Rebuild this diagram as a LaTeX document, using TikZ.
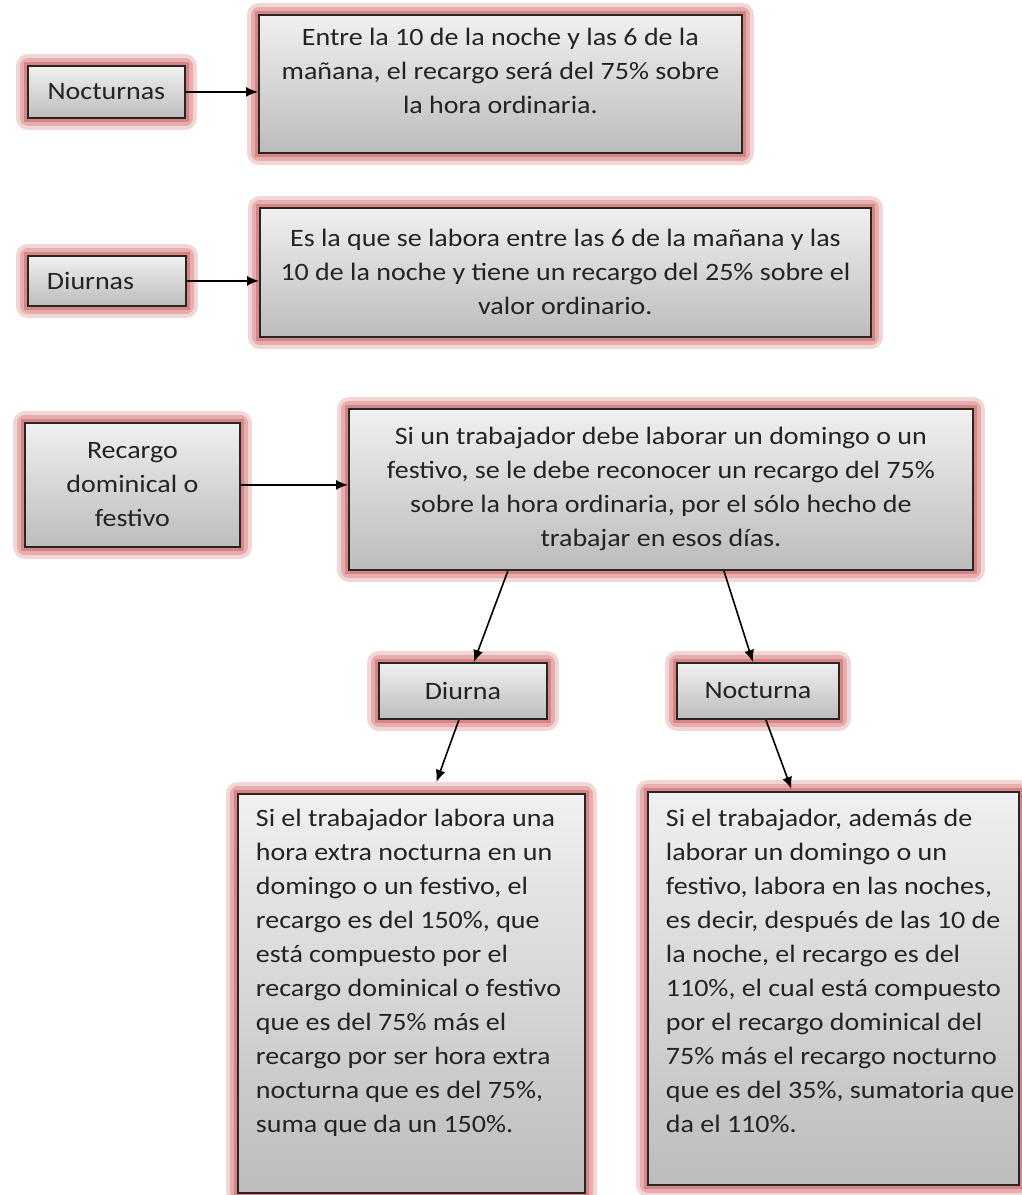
\documentclass[tikz,border=0pt]{standalone}
\usepackage{fontspec}
\setmainfont[FakeStretch=1.12]{Carlito}
\usetikzlibrary{arrows.meta}

\definecolor{glow}{RGB}{212,118,118}
\definecolor{cajaTop}{RGB}{240,240,240}
\definecolor{cajaBot}{RGB}{188,188,188}
\definecolor{letra}{RGB}{35,35,35}

\tikzset{
  caja/.style={draw=black!85, line width=1.8pt, top color=cajaTop, bottom color=cajaBot,
    text=letra, font=\fontsize{25}{34}\selectfont, inner sep=0pt, align=center, anchor=north west,
    preaction={draw=glow!30, line width=24pt, line join=round},
    preaction={draw=glow!60, line width=16pt, line join=round},
    preaction={draw=glow!90, line width=8pt}},
  flecha/.style={-{Latex[length=12pt,width=10pt]}, line width=1.6pt, black}
}

\begin{document}
\begin{tikzpicture}[x=1pt,y=-1pt]
  \useasboundingbox (0,0) rectangle (1021,1195);

  \node[caja, minimum width=157pt, minimum height=52pt] (noct) at (27,65) {Nocturnas};
  \node[caja, inner xsep=10pt, inner ysep=13pt] (noctT) at (258,14)
    {\parbox[t][112pt][t]{463pt}{\centering Entre la 10 de la noche y las 6 de la\\ mañana, el recargo será del 75\% sobre\\ la hora ordinaria.}};

  \node[caja, minimum width=158pt, minimum height=50pt, text width=120pt, inner xsep=19pt, align=left] (diur) at (27,255) {Diurnas};
  \node[caja, minimum width=611pt, minimum height=129pt] (diurT) at (259,207)
    {Es la que se labora entre las 6 de la mañana y las\\ 10 de la noche y tiene un recargo del 25\% sobre el\\ valor ordinario.};

  \node[caja, minimum width=215pt, minimum height=124pt] (rec) at (24,422) {Recargo\\ dominical o\\ festivo};
  \node[caja, minimum width=624pt, minimum height=161pt] (recT) at (348,408)
    {Si un trabajador debe laborar un domingo o un\\ festivo, se le debe reconocer un recargo del 75\%\\ sobre la hora ordinaria, por el sólo hecho de\\ trabajar en esos días.};

  \node[caja, minimum width=168pt, minimum height=56pt] (diurna) at (378,662) {Diurna};
  \node[caja, minimum width=162pt, minimum height=56pt] (nocturna) at (676,662) {Nocturna};

  \node[caja, inner xsep=18pt, inner ysep=15pt] (dom) at (237,793)
    {\parbox[t][369pt][t]{311pt}{\raggedright Si el trabajador labora una\\ hora extra nocturna en un\\ domingo o un festivo, el\\ recargo es del 150\%, que\\ está compuesto por el\\ recargo dominical o festivo\\ que es del 75\% más el\\ recargo por ser hora extra\\ nocturna que es del 75\%,\\ suma que da un 150\%.}};
  \node[caja, inner xsep=18pt, inner ysep=17pt] (noc) at (647,791)
    {\parbox[t][359pt][t]{335pt}{\raggedright Si el trabajador, además de\\ laborar un domingo o un\\ festivo, labora en las noches,\\ es decir, después de las 10 de\\ la noche, el recargo es del\\ 110\%, el cual está compuesto\\ por el recargo dominical del\\ 75\% más el recargo nocturno\\ \mbox{que es del 35\%, sumatoria que}\\ da el 110\%.}};

  \draw[flecha] (noct.east) -- (noct.east -| noctT.west);
  \draw[flecha] (diur.east) -- (diur.east -| diurT.west);
  \draw[flecha] (rec.east) -- (rec.east -| recT.west);
  \draw[flecha] ([xshift=-153pt]recT.south) -- ([xshift=11pt]diurna.north);
  \draw[flecha] ([xshift=63pt]recT.south) -- ([xshift=-5pt]nocturna.north);
  \draw[flecha] ([xshift=-4pt]diurna.south) -- ([xshift=25pt,yshift=11pt]dom.north);
  \draw[flecha] ([xshift=8pt]nocturna.south) -- ([xshift=-42pt,yshift=2pt]noc.north);

\end{tikzpicture}
\end{document}
